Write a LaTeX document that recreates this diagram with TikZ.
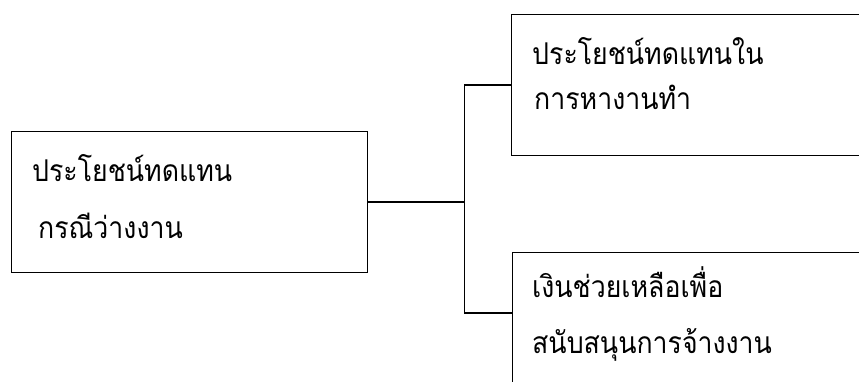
\documentclass[tikz,border=0pt]{standalone}
\usepackage{fontspec}
\newfontfamily\thaifont[Script=Thai, FakeStretch=0.89]{Loma}
\usetikzlibrary{positioning}

\tikzset{
  box/.style={draw=black, line width=1.3pt, anchor=north west, inner sep=0pt},
  lbl/.style={anchor=base west, inner sep=0pt, font=\thaifont\fontsize{30pt}{36pt}\selectfont},
  link/.style={draw=black, line width=1.3pt}
}

\begin{document}
\begin{tikzpicture}[x=1pt, y=-1pt]
  \useasboundingbox (0,0) rectangle (859,382);
  \clip (0,0) rectangle (859,382);
  \fill[white] (0,0) rectangle (859,382);
  % Left box.
  \node[box, minimum width=356pt, minimum height=141pt] (benefit) at (11,131) {};
  \node[lbl] (benefitA) at (32,182) {ประโยชน์ทดแทน};
  \node[lbl] (benefitB) at (38,238) {กรณีว่างงาน};
  % Top right box.
  \node[box, minimum width=400pt, minimum height=141pt] (jobseek) at (511,14) {};
  \node[lbl] (jobseekA) at (532,65) {ประโยชน์ทดแทนใน};
  \node[lbl] (jobseekB) at (534,110) {การหางานทำ};
  % Bottom right box.
  \node[box, minimum width=400pt, minimum height=160pt] (subsidy) at (512,252) {};
  \node[lbl] (subsidyA) at (532,297) {เงินช่วยเหลือเพื่อ};
  \node[lbl] (subsidyB) at (532,353) {สนับสนุนการจ้างงาน};
  % Connectors.
  \coordinate (split) at ([xshift=96pt]benefit.east);
  \coordinate (subsidyin) at ([yshift=-61pt]subsidy.north west);
  \draw[link] (benefit.east) -- (split);
  \draw[link] (jobseek.west) -| (split) |- (subsidyin);
\end{tikzpicture}
\end{document}
